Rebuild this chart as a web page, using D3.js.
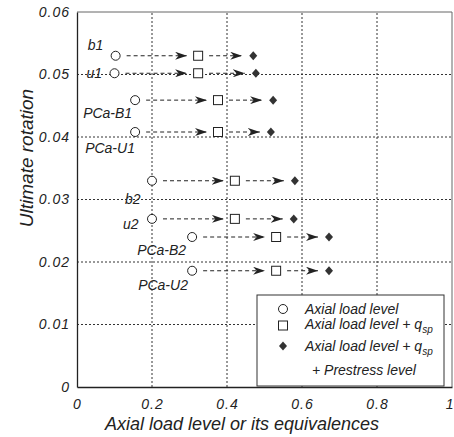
<!DOCTYPE html>
<html>
<head>
<meta charset="utf-8">
<script src="https://cdn.jsdelivr.net/npm/d3@7"></script>
<style>
  body { margin: 0; background: #fff; }
  svg text { font-family: "Liberation Sans", Arial, sans-serif; font-style: italic; fill: #222; }
</style>
</head>
<body>
<div id="chart"></div>
<script>
// specimen names and values
const specimens = ["b1", "u1", "PCa-B1", "PCa-U1", "b2", "u2", "PCa-B2", "PCa-U2"];
const axialLevel = [0.103, 0.100, 0.155, 0.155, 0.200, 0.200, 0.307, 0.307];
const axialPlusQsp = [0.323, 0.323, 0.376, 0.376, 0.421, 0.421, 0.531, 0.531];
const axialPlusQspPrestress = [0.470, 0.477, 0.523, 0.517, 0.581, 0.578, 0.672, 0.672];
const ultimateRotation = [0.0530, 0.0502, 0.0459, 0.0408, 0.0330, 0.0269, 0.0240, 0.0186];

const xTicks = [0, 0.2, 0.4, 0.6, 0.8, 1];
const yTicks = [0, 0.01, 0.02, 0.03, 0.04, 0.05, 0.06];

const W = 454, H = 437;
const margin = { left: 77, right: 2, top: 12, bottom: 50 };

const svg = d3.select("#chart").append("svg")
    .attr("width", W)
    .attr("height", H);

const x = d3.scaleLinear().domain([0, 1]).range([margin.left, W - margin.right]);
const y = d3.scaleLinear().domain([0, 0.06]).range([H - margin.bottom, margin.top]);

const fmt = d => String(+d.toFixed(2));

// dotted grid
svg.append("g")
    .selectAll("line.vg")
    .data(xTicks.slice(1, -1))
    .enter().append("line")
    .attr("x1", d => x(d)).attr("x2", d => x(d))
    .attr("y1", y(0)).attr("y2", y(0.06))
    .attr("stroke", "#333").attr("stroke-dasharray", "2,2");
svg.append("g")
    .selectAll("line.hg")
    .data(yTicks.slice(1, -1))
    .enter().append("line")
    .attr("y1", d => y(d)).attr("y2", d => y(d))
    .attr("x1", x(0)).attr("x2", x(1))
    .attr("stroke", "#333").attr("stroke-dasharray", "2,2");

// frame
svg.append("line").attr("x1", x(0)).attr("x2", x(1)).attr("y1", y(0.06)).attr("y2", y(0.06))
    .attr("stroke", "#666");
svg.append("line").attr("x1", x(1)).attr("x2", x(1)).attr("y1", y(0.06)).attr("y2", y(0))
    .attr("stroke", "#666");

// axes
const xAxis = svg.append("g")
    .attr("transform", `translate(0,${y(0)})`)
    .call(d3.axisBottom(x).tickValues(xTicks).tickFormat(fmt).tickSize(0).tickPadding(12));
const yAxis = svg.append("g")
    .attr("transform", `translate(${x(0)},0)`)
    .call(d3.axisLeft(y).tickValues(yTicks).tickFormat(fmt).tickSize(0).tickPadding(7));
[xAxis, yAxis].forEach(a => {
    a.select(".domain").attr("stroke", "#222").attr("stroke-width", 1.3);
    a.selectAll("text")
        .attr("font-family", null)
        .style("font-size", "14px")
        .style("letter-spacing", "1px")
        .attr("fill", "#222");
});
// last x label sits on the right edge
xAxis.selectAll(".tick").filter(d => d === 1).select("text")
    .attr("text-anchor", "end").attr("dx", 2);

// axis titles
svg.append("text")
    .attr("x", 242).attr("y", 430)
    .attr("text-anchor", "middle")
    .style("font-size", "18px")
    .text("Axial load level or its equivalences");
svg.append("text")
    .attr("transform", "translate(33,158) rotate(-90)")
    .attr("text-anchor", "middle")
    .style("font-size", "19px")
    .text("Ultimate rotation");

// arrow marker
svg.append("defs").append("marker")
    .attr("id", "arrow")
    .attr("viewBox", "0 0 12 8")
    .attr("refX", 12).attr("refY", 4)
    .attr("markerWidth", 12).attr("markerHeight", 8)
    .attr("markerUnits", "userSpaceOnUse")
    .attr("orient", "auto")
    .append("path")
    .attr("d", "M0,0 L12,4 L0,8 L3.5,4 Z")
    .attr("fill", "#222");

const rows = specimens.map((name, i) => ({
    name,
    a: axialLevel[i],
    q: axialPlusQsp[i],
    p: axialPlusQspPrestress[i],
    r: ultimateRotation[i]
}));

const arrowGap = 11;
const g = svg.append("g");
rows.forEach(d => {
    [[d.a, d.q], [d.q, d.p]].forEach(([from, to]) => {
        g.append("line")
            .attr("x1", x(from) + arrowGap).attr("x2", x(to) - arrowGap)
            .attr("y1", y(d.r)).attr("y2", y(d.r))
            .attr("stroke", "#222").attr("stroke-width", 1)
            .attr("stroke-dasharray", "4,3")
            .attr("marker-end", "url(#arrow)");
    });
});

const diamond = (cx, cy) => {
    const p = d3.path();
    p.moveTo(cx, cy - 4.5); p.lineTo(cx + 4, cy); p.lineTo(cx, cy + 4.5); p.lineTo(cx - 4, cy); p.closePath();
    return p.toString();
};

g.selectAll("circle.pt").data(rows).enter().append("circle")
    .attr("cx", d => x(d.a)).attr("cy", d => y(d.r)).attr("r", 4.5)
    .attr("fill", "#fff").attr("stroke", "#222");
g.selectAll("rect.pt").data(rows).enter().append("rect")
    .attr("x", d => x(d.q) - 4.5).attr("y", d => y(d.r) - 4.5)
    .attr("width", 9).attr("height", 9)
    .attr("fill", "#fff").attr("stroke", "#222");
g.selectAll("path.pt").data(rows).enter().append("path")
    .attr("d", d => diamond(x(d.p), y(d.r)))
    .attr("fill", "#333");

// specimen labels, offset from the open circle
const labelOffset = [[-28, -6], [-28, 5], [-52, 18], [-50, 21], [-27, 23], [-29, 10], [-55, 18], [-54, 19]];
g.selectAll("text.lbl").data(rows).enter().append("text")
    .attr("x", (d, i) => x(d.a) + labelOffset[i][0])
    .attr("y", (d, i) => y(d.r) + labelOffset[i][1])
    .style("font-size", "14px")
    .text(d => d.name);

// legend
const lg = svg.append("g");
lg.append("rect")
    .attr("x", 257).attr("y", 295).attr("width", 187).attr("height", 91)
    .attr("fill", "#fff").attr("stroke", "#333");
lg.append("circle").attr("cx", 283).attr("cy", 309).attr("r", 4.5)
    .attr("fill", "#fff").attr("stroke", "#222");
lg.append("rect").attr("x", 278.5).attr("y", 321).attr("width", 9).attr("height", 9)
    .attr("fill", "#fff").attr("stroke", "#222");
lg.append("path").attr("d", diamond(283, 346)).attr("fill", "#333");

const legendText = [
    { x: 305, y: 314, text: "Axial load level", sub: false },
    { x: 305, y: 329, text: "Axial load level + q", sub: true },
    { x: 305, y: 351, text: "Axial load level + q", sub: true },
    { x: 312, y: 375, text: "+ Prestress level", sub: false }
];
legendText.forEach(t => {
    const tx = lg.append("text").attr("x", t.x).attr("y", t.y).style("font-size", "14px");
    tx.append("tspan").text(t.text);
    if (t.sub) tx.append("tspan").attr("dy", 4).style("font-size", "10px").text("sp");
});
</script>
</body>
</html>
